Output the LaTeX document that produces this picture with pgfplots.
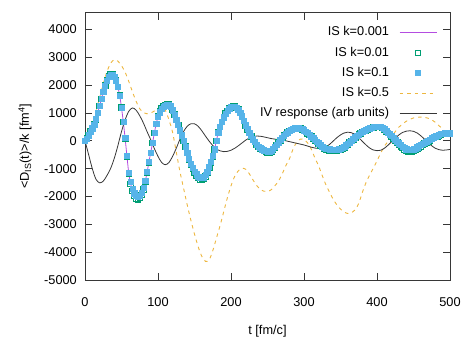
\documentclass[border=0pt]{standalone}
\usepackage{pgfplots}
\pgfplotsset{compat=1.18}
\usepackage{pgfplotstable}
\usepackage{fontspec}
\setmainfont{Liberation Sans}
\definecolor{cpur}{RGB}{180,77,224}
\definecolor{cgrn}{RGB}{0,158,115}
\definecolor{cblu}{RGB}{86,180,233}
\definecolor{corg}{RGB}{237,183,64}
\definecolor{cblk}{RGB}{55,55,55}

\pgfplotsset{
  lineleg/.style={legend image code/.code={\draw[##1] (0pt,0pt) -- (37pt,0pt);}},
  markleg/.style={legend image code/.code={\path[draw=none,fill=none] (0pt,0pt) -- (37pt,0pt); \draw[##1] plot coordinates {(18.5pt,0pt)};}},
}

\pgfplotstableread{
t b g
0 0 0
2.5 80 80
5 200 200
7.5 330 330
10 450 450
12.5 590 590
15 780 780
17.5 1000 1000
20 1260 1260
22.5 1510 1510
25 1750 1760
27.5 1980 1990
30 2160 2180
32.5 2300 2320
35 2370 2390
37.5 2360 2380
40 2290 2300
42.5 2150 2160
45 1930 1940
47.5 1630 1640
50 1200 1200
52.5 680 680
55 100 90
57.5 -550 -570
60 -1150 -1190
62.5 -1480 -1540
65 -1720 -1800
67.5 -1880 -1970
70 -1970 -2070
72.5 -2000 -2100
75 -1960 -2050
77.5 -1860 -1940
80 -1680 -1750
82.5 -1420 -1480
85 -1100 -1140
87.5 -740 -770
90 -420 -430
92.5 -80 -80
95 280 280
97.5 600 610
100 860 870
102.5 1030 1050
105 1140 1160
107.5 1220 1240
110 1270 1290
112.5 1295 1310
115 1290 1300
117.5 1240 1250
120 1100 1110
122.5 930 940
125 750 750
127.5 570 570
130 380 380
132.5 200 200
135 10 0
137.5 -200 -210
140 -420 -430
142.5 -650 -660
145 -830 -850
147.5 -980 -1010
150 -1100 -1140
152.5 -1200 -1250
155 -1280 -1330
157.5 -1330 -1380
160 -1340 -1400
162.5 -1310 -1370
165 -1230 -1280
167.5 -1100 -1140
170 -920 -950
172.5 -760 -780
175 -550 -560
177.5 -300 -300
180 0 0
182.5 300 300
185 500 500
187.5 680 680
190 850 850
192.5 980 980
195 1080 1080
197.5 1160 1160
200 1210 1210
202.5 1230 1230
205 1230 1230
207.5 1190 1190
210 1120 1120
212.5 1010 1010
215 880 880
217.5 720 720
220 560 560
222.5 420 420
225 290 290
227.5 170 170
230 60 60
232.5 -40 -40
235 -130 -140
237.5 -200 -215
240 -260 -280
242.5 -300 -325
245 -340 -365
247.5 -370 -395
250 -385 -410
252.5 -380 -405
255 -350 -370
257.5 -290 -305
260 -220 -230
262.5 -140 -150
265 -60 -65
267.5 30 25
270 110 105
272.5 190 185
275 250 245
277.5 310 305
280 360 355
282.5 400 395
285 430 425
287.5 450 445
290 460 455
292.5 460 455
295 445 440
297.5 420 415
300 380 375
302.5 330 325
305 280 275
307.5 220 210
310 160 150
312.5 100 90
315 40 25
317.5 -20 -40
320 -90 -110
322.5 -150 -170
325 -200 -225
327.5 -240 -270
330 -270 -300
332.5 -290 -325
335 -305 -345
337.5 -315 -355
340 -320 -360
342.5 -320 -360
345 -315 -350
347.5 -300 -330
350 -280 -305
352.5 -250 -270
355 -210 -230
357.5 -160 -180
360 -110 -125
362.5 -50 -65
365 10 0
367.5 70 60
370 130 120
372.5 180 175
375 230 225
377.5 280 275
380 320 315
382.5 360 355
385 390 385
387.5 420 415
390 450 445
392.5 475 470
395 495 490
397.5 505 500
400 510 505
402.5 510 505
405 500 495
407.5 470 465
410 420 410
412.5 360 345
415 300 285
417.5 240 220
420 170 150
422.5 100 75
425 30 0
427.5 -30 -65
430 -90 -130
432.5 -150 -195
435 -210 -255
437.5 -260 -310
440 -300 -350
442.5 -320 -380
445 -325 -390
447.5 -320 -385
450 -300 -360
452.5 -270 -325
455 -230 -280
457.5 -190 -235
460 -150 -190
462.5 -110 -145
465 -70 -100
467.5 -30 -55
470 10 -15
472.5 50 25
475 90 65
477.5 130 105
480 165 140
482.5 195 170
485 220 200
487.5 245 225
490 265 245
492.5 275 255
495 280 265
497.5 280 265
500 275 260
}\IS

\pgfplotstableread{
t o v
0 0 0
5 250 -500
10 600 -1000
15 1050 -1380
20 1550 -1510
25 2050 -1450
30 2480 -1250
35 2780 -1000
40 2910 -640
45 2860 -180
50 2700 330
55 2460 760
60 2130 1060
65 1760 1180
70 1420 1100
75 1150 900
80 1010 640
85 970 330
90 1000 40
95 1070 -280
100 1170 -560
105 1220 -780
110 1100 -860
115 750 -780
120 300 -560
125 -400 -270
130 -1100 50
135 -1700 330
140 -2300 520
145 -2850 610
150 -3350 610
155 -3800 520
160 -4150 360
165 -4330 170
170 -4280 -10
175 -3950 -170
180 -3500 -290
185 -3050 -360
190 -2550 -390
195 -2050 -380
200 -1620 -340
205 -1280 -270
210 -1080 -180
215 -990 -80
220 -1020 20
225 -1180 100
230 -1400 150
235 -1600 170
240 -1740 165
245 -1810 140
250 -1820 110
255 -1760 80
260 -1620 60
265 -1450 40
270 -1200 20
275 -900 0
280 -650 -30
285 -300 -60
290 -50 -90
295 60 -120
300 40 -150
305 -80 -190
310 -300 -230
315 -620 -260
320 -900 -280
325 -1250 -270
330 -1580 -220
335 -1850 -130
340 -2100 -10
345 -2300 110
350 -2450 210
355 -2560 280
360 -2610 310
365 -2580 290
370 -2480 220
375 -2250 110
380 -1850 -20
385 -1500 -150
390 -1230 -260
395 -980 -330
400 -720 -355
405 -450 -340
410 -200 -270
415 -30 -160
420 150 -30
425 330 100
430 490 210
435 600 300
440 700 345
445 770 360
450 820 340
455 845 280
460 850 180
465 845 60
470 810 -70
475 750 -180
480 660 -270
485 540 -320
490 420 -340
495 290 -330
500 180 -310
}\OV

\begin{document}
\fontsize{12.75pt}{15pt}\selectfont
\begin{tikzpicture}
\path[use as bounding box] (-85pt,-60pt) rectangle (382pt,280pt);
\begin{axis}[
  at={(0pt,0pt)}, anchor=south west,
  scale only axis, width=365pt, height=267.3pt,
  xmin=0, xmax=500, ymin=-5000, ymax=4600,
  xtick={0,100,...,500}, ytick={-5000,-4000,...,4000},
  scaled ticks=false,
  /pgf/number format/1000 sep={},
  /pgf/number format/assume math mode=true,
  tick align=inside, major tick length=7pt,
  axis line style={cblk, line width=0.8pt},
  every tick/.style={cblk, line width=0.8pt},
  ticklabel style={font=\fontsize{12.75pt}{15pt}\selectfont},
  xticklabel style={anchor=center, yshift=-21.7pt, inner sep=0pt},
  yticklabel style={anchor=east, xshift=-8pt, inner sep=0pt},
  xlabel={t [fm/c]},
  ylabel={\textless D\textsubscript{IS}(t)\textgreater/k [fm\textsuperscript{4}]},
  xlabel style={at={(axis description cs:0.5,-0.1934)}, anchor=center},
  ylabel style={at={(axis description cs:-0.1644,0.5)}, anchor=center, rotate=0},
  legend plot pos=right,
  legend cell align=right,
  legend style={at={(1,1)}, anchor=north east, xshift=-13pt, yshift=-14pt,
    draw=none, fill=none, inner sep=0pt, outer sep=0pt,
    row sep=8.4pt, column sep=10pt,
    nodes={inner sep=0pt, text height=9.2pt, text depth=2.6pt},
    font=\fontsize{12.75pt}{15pt}\selectfont},
]
\addplot[cpur, line width=0.8pt, lineleg]
  table[x=t,y=g]{\IS};
\addlegendentry{IS k=0.001}
\addplot[only marks, mark=square, mark size=2.8pt, cgrn, mark options={line width=0.7pt}, markleg]
  table[x=t,y=g]{\IS};
\addlegendentry{IS k=0.01}
\addplot[only marks, mark=square*, mark size=2.6pt, cblu, mark options={draw=cblu, fill=cblu}, markleg]
  table[x=t,y=b]{\IS};
\addlegendentry{IS k=0.1}
\addplot[corg, line width=0.9pt, dash pattern=on 3.5pt off 4pt, smooth, lineleg]
  table[x=t,y=o]{\OV};
\addlegendentry{IS k=0.5}
\addplot[cblk, line width=0.8pt, smooth, lineleg]
  table[x=t,y=v]{\OV};
\addlegendentry{IV response (arb units)}
\end{axis}
\end{tikzpicture}
\end{document}
